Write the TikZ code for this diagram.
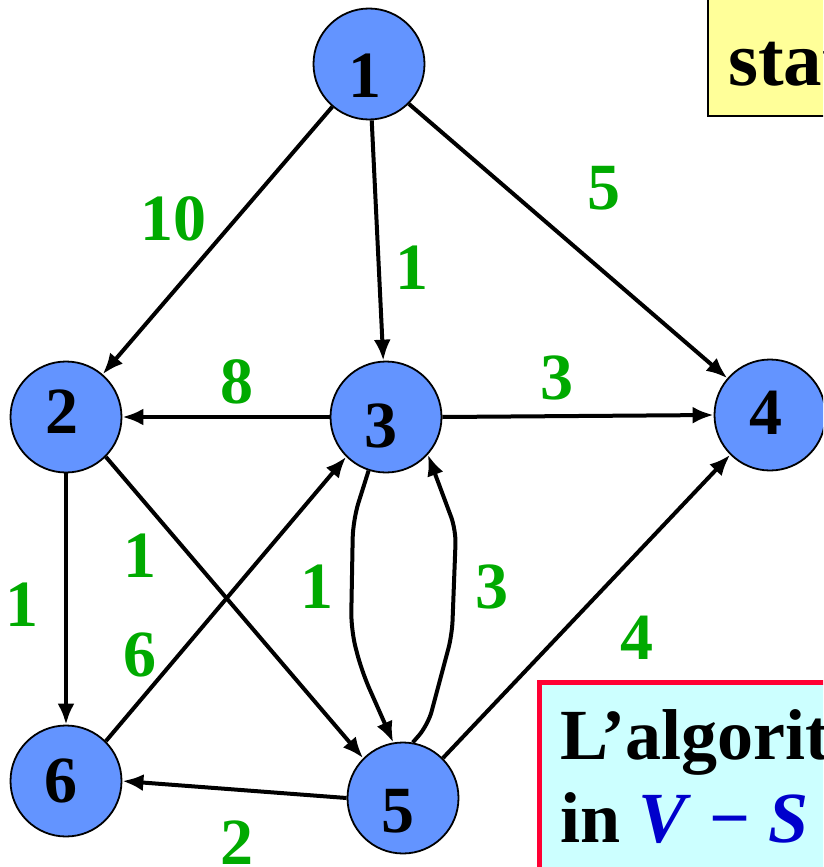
\documentclass[tikz,border=0pt]{standalone}
\usepackage{fontspec}
\setmainfont{Liberation Serif}[BoldFont={Liberation Serif Bold}, ItalicFont={Liberation Serif Italic}, BoldItalicFont={Liberation Serif Bold Italic}]
\usetikzlibrary{arrows.meta}
\definecolor{nodeblue}{RGB}{99,148,255}
\definecolor{labgreen}{RGB}{0,170,0}
\definecolor{boxyellow}{RGB}{255,255,153}
\definecolor{boxcyan}{RGB}{204,255,255}
\definecolor{boxred}{RGB}{255,0,51}
\definecolor{vblue}{RGB}{0,0,204}
\tikzset{
  vert/.style={circle, draw=black, line width=1.8pt, fill=nodeblue, minimum size=111pt, inner sep=0pt},
  num/.style={font=\fontsize{66}{66}\selectfont\bfseries, inner sep=0pt},
  wlab/.style={font=\fontsize{66}{66}\selectfont\bfseries, text=labgreen, inner sep=0pt},
  boxtxt/.style={font=\fontsize{72}{72}\selectfont\bfseries, inner sep=0pt, anchor=base west},
  conn/.style={line width=4pt, -{Latex[length=21pt,width=17pt]}},
}
\begin{document}
\begin{tikzpicture}[x=1pt,y=-1pt]
\clip (0,0) rectangle (823,867);
\fill[white] (0,0) rectangle (823,867);
% boxes
\draw[fill=boxyellow, line width=2.8pt] (708,-10) rectangle (900,116);
\node[boxtxt, font=\fontsize{77}{77}\selectfont\bfseries] (starttxt) at (728,85) {stato};
\draw[fill=boxcyan, draw=boxred, line width=5pt] (539.5,682.5) rectangle (900,900);
\node[boxtxt] (algl1) at (560,759) {L’algoritmo};
\node[boxtxt] (algl2) at (560,842) {in \textcolor{vblue}{\textit{V}} \textcolor{vblue}{−} \textcolor{vblue}{\textit{S}} con};
% vertices
\node[vert] (n1) at (369,64) {};
\node[vert] (n2) at (66,417) {};
\node[vert] (n3) at (386,417) {};
\node[vert] (n4) at (770,415) {};
\node[vert] (n5) at (403,798) {};
\node[vert] (n6) at (66,781) {};
\node[num] (t1) at (365,76) {1};
\node[num] (t2) at (62,412) {2};
\node[num] (t3) at (381,426) {3};
\node[num] (t4) at (766,413) {4};
\node[num] (t5) at (398,811) {5};
\node[num] (t6) at (61,781) {6};
% edges
\draw[conn] (n1) -- (n2);
\draw[conn] (n1) -- (n3);
\draw[conn] (n1.-45) -- (n4);
\draw[conn] (n3.west) -- (n2.east);
\draw[conn] (n3.east) -- (n4.west);
\draw[conn] (n2.south) -- (n6.north);
\draw[conn] (n2.-45) -- (n5.135);
\draw[conn] (n6.45) -- (n3.-135);
\draw[conn] (n5.west) -- (n6.east);
\draw[conn] (n5.45) -- (n4.-135);
\draw[conn, rounded corners=18pt] (n3.-108) -- (353,520) -- (351,630) -- (362,672) -- (n5.100);
\draw[conn, rounded corners=14pt] (n5.80) -- (428,725) -- (452,635) -- (456,530) -- (n3.-42);
% weights
\node[wlab] (w12) at (173,219) {10};
\node[wlab] (w13) at (412,268) {1};
\node[wlab] (w14) at (604,188) {5};
\node[wlab] (w32) at (237,382) {8};
\node[wlab] (w34) at (557,378) {3};
\node[wlab] (w25) at (140,556) {1};
\node[wlab] (w26) at (22,605) {1};
\node[wlab] (w63) at (140,655) {6};
\node[wlab] (w35) at (317,587) {1};
\node[wlab] (w53) at (492,587) {3};
\node[wlab] (w54) at (637,638) {4};
\node[wlab] (w56) at (237,843) {2};
\end{tikzpicture}
\end{document}
